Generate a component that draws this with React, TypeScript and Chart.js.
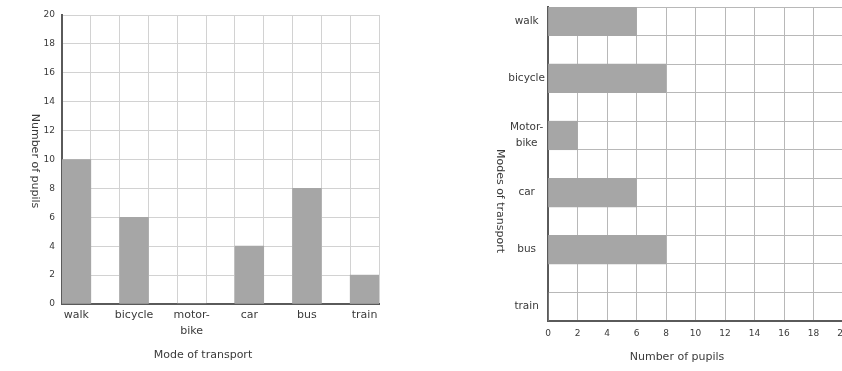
import React, { useEffect, useRef } from "react";
import { Chart, registerables } from "chart.js";

Chart.register(...registerables);

// Left chart (vertical bars)
const leftCategories: (string | string[])[] = ["walk", "", "bicycle", "", ["motor-", "bike"], "", "car", "", "bus", "", "train"];
const leftValues: (number | null)[] = [10, null, 6, null, 0, null, 4, null, 8, null, 2];
const leftTickMax = 20;
const leftTickStep = 2;
const leftXTitle = "Mode of transport";
const leftYTitle = "Number of pupils";

// Right chart (horizontal bars)
const rightCategories: (string | string[])[] = ["walk", "", "bicycle", "", ["Motor-", "bike"], "", "car", "", "bus", "", "train"];
const rightValues: (number | null)[] = [6, null, 8, null, 2, null, 6, null, 8, null, 0];
const rightTickMax = 20;
const rightTickStep = 2;
const rightXTitle = "Number of pupils";
const rightYTitle = "Modes of transport";

const FONT = "'DejaVu Sans', sans-serif";
const TEXT = "#3a3a3a";
const BAR = "#a6a6a6";
const AXIS = "#5a5a5a";

const titlesPlugin = {
  id: "customTitles",
  afterDraw(chart: any, _args: any, opts: any) {
    const ctx = chart.ctx;
    ctx.save();
    ctx.fillStyle = TEXT;
    ctx.font = `11px ${FONT}`;
    ctx.textAlign = "center";
    ctx.textBaseline = "middle";
    if (opts.x) ctx.fillText(opts.x.text, opts.x.px, opts.x.py);
    if (opts.y) {
      ctx.translate(opts.y.px, opts.y.py);
      ctx.rotate(Math.PI / 2);
      ctx.fillText(opts.y.text, 0, 0);
    }
    ctx.restore();
  },
};

function LeftChart() {
  const ref = useRef<HTMLCanvasElement>(null);
  useEffect(() => {
    const chart = new Chart(ref.current!, {
      type: "bar",
      data: {
        labels: leftCategories,
        datasets: [{ data: leftValues, backgroundColor: BAR, barPercentage: 1, categoryPercentage: 1 }],
      },
      plugins: [titlesPlugin],
      options: {
        responsive: false,
        animation: false,
        layout: { padding: { left: 0, right: 41, top: 15, bottom: 0 } },
        plugins: {
          legend: { display: false },
          tooltip: { enabled: false },
          customTitles: {
            x: { text: leftXTitle, px: 203, py: 355 },
            y: { text: leftYTitle, px: 35, py: 161 },
          },
        } as any,
        scales: {
          x: {
            grid: { color: "#d2d2d2", drawTicks: false, offset: true },
            border: { color: AXIS, width: 2 },
            ticks: { color: TEXT, font: { family: FONT, size: 11, lineHeight: 1.45 }, padding: 3, autoSkip: false, maxRotation: 0 },
            afterFit: (s: any) => { s.height = 67; },
          },
          y: {
            min: 0,
            max: leftTickMax,
            grid: { color: "#d2d2d2", drawTicks: false },
            border: { color: AXIS, width: 2 },
            ticks: { stepSize: leftTickStep, color: TEXT, font: { family: FONT, size: 9 }, padding: 7 },
            afterFit: (s: any) => { s.width = 62; },
          },
        },
      },
    });
    return () => chart.destroy();
  }, []);
  return <canvas ref={ref} width={420} height={371} style={{ position: "absolute", left: 0, top: 0 }} />;
}

function RightChart() {
  const ref = useRef<HTMLCanvasElement>(null);
  useEffect(() => {
    const chart = new Chart(ref.current!, {
      type: "bar",
      data: {
        labels: rightCategories,
        datasets: [{ data: rightValues, backgroundColor: BAR, barPercentage: 1, categoryPercentage: 1 }],
      },
      plugins: [titlesPlugin],
      options: {
        indexAxis: "y",
        responsive: false,
        animation: false,
        layout: { padding: { left: 0, right: 22, top: 7, bottom: 0 } },
        plugins: {
          legend: { display: false },
          tooltip: { enabled: false },
          customTitles: {
            x: { text: rightXTitle, px: 257, py: 357 },
            y: { text: rightYTitle, px: 80, py: 201 },
          },
        } as any,
        scales: {
          x: {
            min: 0,
            max: rightTickMax,
            grid: { color: "#b8b8b8", drawTicks: false },
            border: { color: AXIS, width: 2 },
            ticks: { stepSize: rightTickStep, color: TEXT, font: { family: FONT, size: 9 }, padding: 7, autoSkip: false, maxRotation: 0 },
            afterFit: (s: any) => { s.height = 50; },
          },
          y: {
            grid: { color: "#b8b8b8", drawTicks: false, offset: true },
            border: { color: AXIS, width: 2 },
            ticks: { color: TEXT, font: { family: FONT, size: 10.5, lineHeight: 1.5 }, padding: 3, crossAlign: "center", autoSkip: false },
            afterFit: (s: any) => { s.width = 128; s.paddingTop = 0; s.paddingBottom = 0; },
          },
        },
      },
    });
    return () => chart.destroy();
  }, []);
  return <canvas ref={ref} width={445} height={371} style={{ position: "absolute", left: 420, top: 0 }} />;
}

export default function App() {
  return (
    <div style={{ position: "fixed", left: 0, top: 0, width: 842, height: 371, overflow: "hidden", background: "#fff" }}>
      <LeftChart />
      <RightChart />
    </div>
  );
}
